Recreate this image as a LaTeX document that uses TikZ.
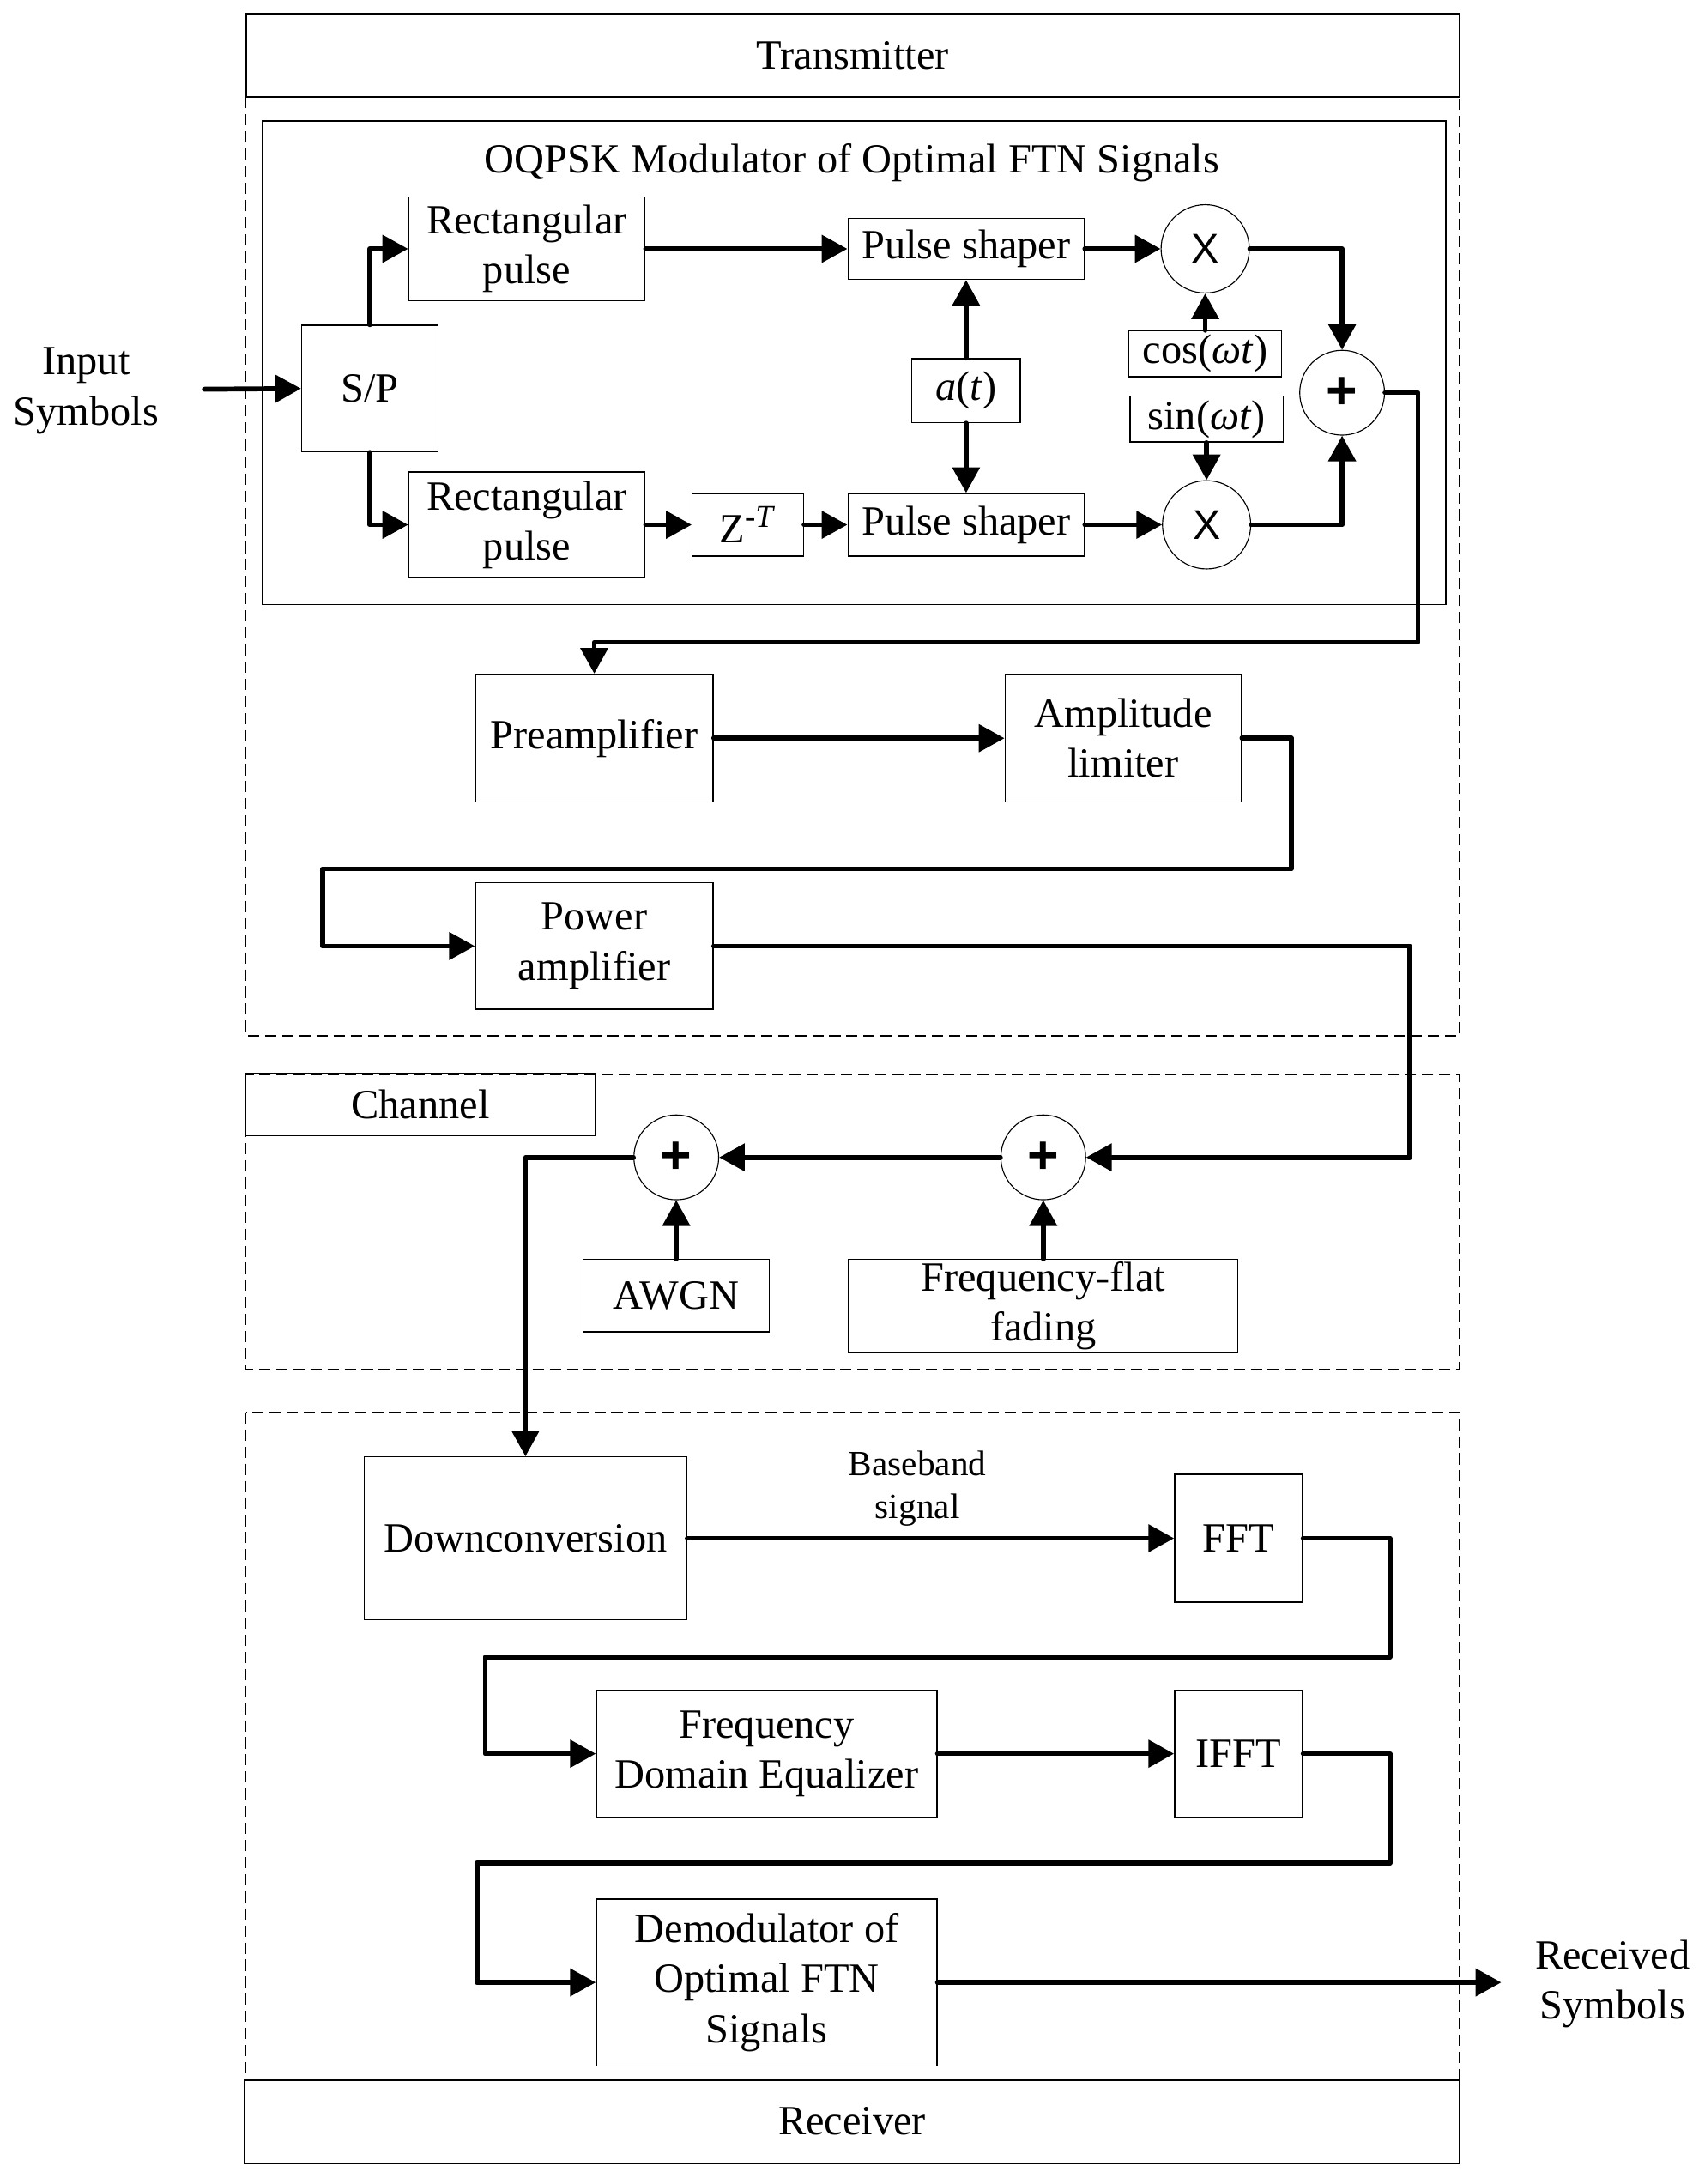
\documentclass[tikz,border=0pt]{standalone}
\usepackage{fontspec}
\setmainfont{Liberation Serif}
\setsansfont{Liberation Sans}
\usetikzlibrary{arrows.meta}

\begin{document}
\begin{tikzpicture}[
        x=0.02cm, y=-0.02cm,
        font=\fontsize{17pt}{20.5pt}\selectfont,
        block/.style={
            draw,
            rectangle,
            line width=0.5pt,
            inner sep=0pt,
            align=center,
        },
        mult/.style={
            draw,
            circle,
            line width=0.4pt,
            inner sep=0pt,
            minimum size=1.27cm,
            font=\sffamily\fontsize{17pt}{20pt}\selectfont,
        },
        adder/.style={
            draw,
            circle,
            line width=0.4pt,
            inner sep=0pt,
            minimum size=1.22cm,
            font=\sffamily\bfseries\fontsize{22pt}{24pt}\selectfont,
        },
        region/.style={
            draw,
            line width=0.5pt,
            dash pattern=on 4.6pt off 2.4pt,
        },
        wire/.style={line width=2pt, line join=round, line cap=round},
        conn/.style={wire, -{Triangle[length=10.5pt,width=11pt]}},
    ]
    \useasboundingbox (0,0) rectangle (1226.5,1571);

    % frames
    \draw [region] (177,70) rectangle (1050,745);
    \draw [region] (177,773) rectangle (1050,985);
    \draw [region] (177,1016) rectangle (1050,1496);
    \node (Tx) at (613.5,40) [block, line width=0.7pt, minimum width=17.46cm, minimum height=1.2cm] {Transmitter};
    \node (Rx) at (613,1526) [block, line width=0.7pt, minimum width=17.48cm, minimum height=1.2cm] {Receiver};
    \node (Ch) at (302.5,794.5) [block, minimum width=5.02cm, minimum height=0.9cm] {Channel};
    \draw [line width=0.5pt] (189,87) rectangle (1040,435);
    \node (Mod) at (613,117) {OQPSK Modulator of Optimal FTN Signals};

    % modulator
    \node (SP) at (266,279.5) [block, minimum width=1.96cm, minimum height=1.82cm] {S/P};
    \node (RP1) at (379,179) [block, minimum width=3.4cm, minimum height=1.5cm] {Rectangular\\pulse};
    \node (RP2) at (379,377.5) [block, minimum width=3.4cm, minimum height=1.52cm] {Rectangular\\pulse};
    \node (Z) at (538,377.5) [block, minimum width=1.6cm, minimum height=0.9cm] {Z\textsuperscript{\fontsize{13pt}{14pt}\selectfont-\textit{T}}};
    \node (PS1) at (695,179) [block, minimum width=3.4cm, minimum height=0.88cm] {Pulse shaper};
    \node (PS2) at (695,377.5) [block, minimum width=3.4cm, minimum height=0.9cm] {Pulse shaper};
    \node (At) at (695,281) [block, minimum width=1.56cm, minimum height=0.92cm] {\textit{a}(\textit{t})};
    \node (X1) at (867,179) [mult] {X};
    \node (X2) at (868,377.5) [mult] {X};
    \node (Cos) at (867,254.5) [block, minimum width=2.2cm, minimum height=0.66cm] {cos(\textit{ωt})};
    \node (Sin) at (868,301.5) [block, minimum width=2.2cm, minimum height=0.66cm] {sin(\textit{ωt})};
    \node (Add) at (965.5,282.5) [adder] {+};

    \coordinate (In) at (147,280);
    \node (InTxt) at (62,281) [align=center] {Input\\Symbols};

    \draw [conn] (In) -- (SP.west);
    \draw [conn] (SP.north) |- (RP1.west);
    \draw [conn] (SP.south) |- (RP2.west);
    \draw [conn] (RP1.east) -- (PS1.west);
    \draw [conn] (RP2.east) -- (Z.west);
    \draw [conn] (Z.east) -- (PS2.west);
    \draw [conn] (PS1.east) -- (X1.west);
    \draw [conn] (PS2.east) -- (X2.west);
    \draw [conn] (At.north) -- (PS1.south);
    \draw [conn] (At.south) -- (PS2.north);
    \draw [conn] (Cos.north) -- (X1.south);
    \draw [conn] (Sin.south) -- (X2.north);
    \draw [conn] (X1.east) -| (Add.north);
    \draw [conn] (X2.east) -| (Add.south);

    % amplifiers
    \node (Pre) at (427.5,531) [block, minimum width=3.42cm, minimum height=1.84cm] {Preamplifier};
    \node (Lim) at (808,531) [block, minimum width=3.4cm, minimum height=1.84cm] {Amplitude\\limiter};
    \node (PA) at (427.5,680.5) [block, minimum width=3.42cm, minimum height=1.82cm] {Power\\amplifier};

    \draw [conn] (Add.east) -| (1020,462) -| (Pre.north);
    \draw [conn] (Pre.east) -- (Lim.west);
    \draw [conn] (Lim.east) -| (929,625) -- (232,625) |- (PA.west);

    % channel
    \node (Add1) at (486.5,832.5) [adder] {+};
    \node (Add2) at (750.5,832.5) [adder] {+};
    \node (AWGN) at (486.5,932) [block, minimum width=2.68cm, minimum height=1.04cm] {AWGN};
    \node (Fad) at (750.5,939.5) [block, minimum width=5.6cm, minimum height=1.34cm] {Frequency-flat\\fading};

    \draw [conn] (PA.east) -| (1014,832.5) -- (Add2.east);
    \draw [conn] (Add2.west) -- (Add1.east);
    \draw [conn] (AWGN.north) -- (Add1.south);
    \draw [conn] (Fad.north) -- (Add2.south);

    % receiver
    \node (Down) at (378,1106.5) [block, minimum width=4.64cm, minimum height=2.34cm] {Downconversion};
    \node (FFT) at (891,1106.5) [block, minimum width=1.84cm, minimum height=1.84cm] {FFT};
    \node (FDE) at (551.5,1261.5) [block, minimum width=4.9cm, minimum height=1.82cm] {Frequency\\Domain Equalizer};
    \node (IFFT) at (891,1261.5) [block, minimum width=1.84cm, minimum height=1.82cm] {IFFT};
    \node (Demod) at (551.5,1426) [block, minimum width=4.9cm, minimum height=2.4cm] {Demodulator of\\Optimal FTN\\Signals};
    \node (Base) at (660,1071) [align=center, font=\fontsize{14.5pt}{17.5pt}\selectfont] {Baseband\\signal};

    \coordinate (Out) at (1080,1426);
    \node (OutTxt) at (1160,1427) [align=center] {Received\\Symbols};

    \draw [conn] (Add1.west) -| (Down.north);
    \draw [conn] (Down.east) -- (FFT.west);
    \draw [conn] (FFT.east) -| (1000,1192) -- (349,1192) |- (FDE.west);
    \draw [conn] (FDE.east) -- (IFFT.west);
    \draw [conn] (IFFT.east) -| (1000,1340) -- (343,1340) |- (Demod.west);
    \draw [conn] (Demod.east) -- (Out);

\end{tikzpicture}
\end{document}
